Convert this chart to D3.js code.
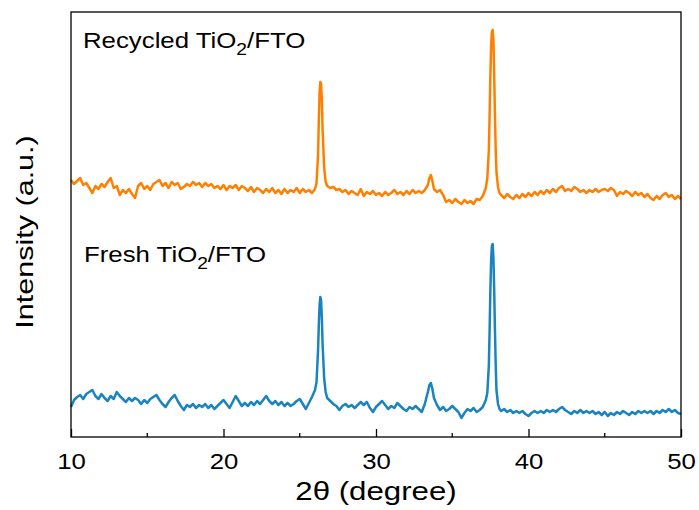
<!DOCTYPE html>
<html>
<head>
<meta charset="utf-8">
<script src="https://cdn.jsdelivr.net/npm/d3@7"></script>
<style>
  body { margin: 0; background: #fff; }
  svg { font-family: "Liberation Sans", Arial, sans-serif; }
</style>
</head>
<body>
<div id="chart"></div>
<script>
// XRD patterns, [2theta, intensity (a.u.)]
const recycled = [
  [10.0,257],[10.2,253],[10.4,256],[10.6,259],[10.8,252],[11.0,254],[11.2,249],[11.4,244],[11.6,251],[11.8,248],
  [12.0,253],[12.2,250],[12.4,255],[12.6,259],[12.8,249],[13.0,251],[13.2,242],[13.4,247],[13.6,244],[13.8,248],
  [14.0,243],[14.2,239],[14.4,251],[14.6,254],[14.8,248],[15.0,251],[15.2,247],[15.4,253],[15.6,255],[15.8,257],
  [16.0,251],[16.2,254],[16.4,249],[16.6,255],[16.8,252],[17.0,254],[17.2,248],[17.4,250],[17.6,253],[17.8,251],
  [18.0,255],[18.2,252],[18.4,254],[18.6,250],[18.8,254],[19.0,251],[19.2,253],[19.4,249],[19.6,251],[19.8,248],
  [20.0,252],[20.2,247],[20.4,251],[20.6,249],[20.8,252],[21.0,247],[21.2,251],[21.4,249],[21.6,246],[21.8,250],
  [22.0,245],[22.2,249],[22.4,247],[22.6,244],[22.8,248],[23.0,245],[23.2,249],[23.4,244],[23.6,247],[23.8,243],
  [24.0,248],[24.2,244],[24.4,247],[24.6,245],[24.8,249],[25.0,244],[25.2,248],[25.4,245],[25.6,247],[25.8,244],
  [26.0,248],[26.1,254],[26.2,282],[26.25,317],[26.3,345],[26.35,355],[26.4,353],[26.45,337],[26.5,307],[26.6,269],
  [26.7,255],[26.8,251],[27.0,249],[27.2,250],[27.4,247],[27.6,248],[27.8,245],[28.0,247],[28.2,243],[28.4,246],
  [28.6,244],[28.8,242],[29.0,248],[29.2,241],[29.4,245],[29.6,243],[29.8,246],[30.0,242],[30.2,244],[30.4,241],
  [30.6,245],[30.8,242],[31.0,244],[31.2,247],[31.4,243],[31.6,245],[31.8,242],[32.0,246],[32.2,243],[32.4,247],
  [32.6,244],[32.8,246],[33.0,244],[33.2,247],[33.4,252],[33.5,259],[33.6,262],[33.7,256],[33.8,248],[34.0,245],
  [34.2,247],[34.4,242],[34.6,235],[34.8,237],[35.0,234],[35.2,238],[35.4,235],[35.6,233],[35.8,237],[36.0,234],
  [36.2,236],[36.4,233],[36.6,238],[36.8,237],[37.0,241],[37.2,249],[37.3,259],[37.4,287],[37.45,322],[37.5,362],
  [37.55,392],[37.6,405],[37.65,407],[37.7,397],[37.75,362],[37.8,322],[37.85,287],[37.9,265],[38.0,250],[38.1,244],
  [38.2,242],[38.4,239],[38.6,243],[38.8,240],[39.0,238],[39.2,242],[39.4,239],[39.6,243],[39.8,240],[40.0,244],
  [40.2,241],[40.4,245],[40.6,242],[40.8,246],[41.0,243],[41.2,247],[41.4,244],[41.6,248],[41.8,245],[42.0,249],
  [42.2,251],[42.4,246],[42.6,248],[42.8,246],[43.0,250],[43.2,248],[43.4,245],[43.6,247],[43.8,244],[44.0,247],
  [44.2,245],[44.4,248],[44.6,245],[44.8,247],[45.0,248],[45.2,246],[45.4,249],[45.6,247],[45.8,241],[46.0,245],
  [46.2,243],[46.4,246],[46.6,244],[46.8,241],[47.0,245],[47.2,242],[47.4,244],[47.6,240],[47.8,243],[48.0,239],
  [48.2,237],[48.4,241],[48.6,238],[48.8,242],[49.0,244],[49.2,240],[49.4,242],[49.6,238],[49.8,241],[50.0,238]
];

const fresh = [
  [10.0,30],[10.2,37],[10.4,40],[10.6,42],[10.8,38],[11.0,43],[11.2,45],[11.4,47],[11.6,41],[11.8,38],
  [12.0,43],[12.2,39],[12.4,36],[12.6,41],[12.8,38],[13.0,45],[13.2,41],[13.4,38],[13.6,35],[13.8,39],
  [14.0,36],[14.2,39],[14.4,37],[14.6,33],[14.8,37],[15.0,34],[15.2,38],[15.4,40],[15.6,42],[15.8,37],
  [16.0,33],[16.2,30],[16.4,35],[16.6,39],[16.8,42],[17.0,36],[17.2,31],[17.4,27],[17.6,32],[17.8,30],
  [18.0,33],[18.2,29],[18.4,32],[18.6,30],[18.8,33],[19.0,29],[19.2,32],[19.4,28],[19.6,31],[19.8,34],
  [20.0,37],[20.2,33],[20.4,29],[20.6,35],[20.8,41],[21.0,36],[21.2,31],[21.4,34],[21.6,31],[21.8,35],
  [22.0,32],[22.2,36],[22.4,33],[22.6,37],[22.8,41],[23.0,36],[23.2,33],[23.4,36],[23.6,32],[23.8,35],
  [24.0,31],[24.2,34],[24.4,31],[24.6,33],[24.8,36],[25.0,38],[25.2,33],[25.4,28],[25.6,34],[25.8,40],
  [26.0,47],[26.1,55],[26.2,87],[26.25,112],[26.3,132],[26.35,140],[26.4,137],[26.45,119],[26.5,92],[26.6,59],
  [26.7,45],[26.8,39],[27.0,36],[27.2,33],[27.4,31],[27.6,27],[27.8,31],[28.0,33],[28.2,30],[28.4,32],
  [28.6,29],[28.8,32],[29.0,35],[29.2,32],[29.4,35],[29.6,29],[29.8,25],[30.0,30],[30.2,33],[30.4,36],
  [30.6,32],[30.8,28],[31.0,31],[31.2,29],[31.4,34],[31.6,31],[31.8,28],[32.0,26],[32.2,30],[32.4,28],
  [32.6,31],[32.8,28],[33.0,25],[33.2,33],[33.3,39],[33.4,45],[33.5,52],[33.6,54],[33.7,48],[33.8,39],
  [34.0,32],[34.2,27],[34.4,30],[34.6,26],[34.8,28],[35.0,31],[35.2,28],[35.4,25],[35.6,19],[35.8,24],
  [36.0,28],[36.2,26],[36.4,29],[36.6,25],[36.8,27],[37.0,30],[37.2,37],[37.3,44],[37.4,72],[37.45,107],
  [37.5,147],[37.55,177],[37.6,191],[37.65,193],[37.7,179],[37.75,147],[37.8,107],[37.85,72],[37.9,47],[38.0,33],
  [38.1,28],[38.2,26],[38.4,28],[38.6,25],[38.8,27],[39.0,24],[39.2,26],[39.4,24],[39.6,26],[39.8,23],
  [40.0,21],[40.2,24],[40.4,26],[40.6,24],[40.8,26],[41.0,24],[41.2,27],[41.4,25],[41.6,27],[41.8,25],
  [42.0,28],[42.2,30],[42.4,27],[42.6,25],[42.8,23],[43.0,26],[43.2,24],[43.4,27],[43.6,24],[43.8,26],
  [44.0,24],[44.2,26],[44.4,23],[44.6,25],[44.8,22],[45.0,25],[45.2,21],[45.4,24],[45.6,22],[45.8,25],
  [46.0,23],[46.2,26],[46.4,24],[46.6,22],[46.8,25],[47.0,23],[47.2,26],[47.4,24],[47.6,26],[47.8,24],
  [48.0,26],[48.2,23],[48.4,26],[48.6,24],[48.8,27],[49.0,25],[49.2,28],[49.4,25],[49.6,27],[49.8,24],[50.0,23]
];

const xTicks = [10, 20, 30, 40, 50];
const xMinor = [15, 25, 35, 45];

const width = 699;
const height = 510;
const margin = { top: 12, right: 18, bottom: 73, left: 71 };
const innerW = width - margin.left - margin.right;
const innerH = height - margin.top - margin.bottom;

// the original figure's lettering is stretched along the reading direction
const stretch = 1.25;

const svg = d3.select("#chart")
    .append("svg")
    .attr("width", width)
    .attr("height", height);

const g = svg.append("g")
    .attr("transform", `translate(${margin.left},${margin.top})`);

const x = d3.scaleLinear().domain([10, 50]).range([0, innerW]);
const y = d3.scaleLinear().domain([0, innerH]).range([innerH, 0]);

const line = d3.line()
    .x(d => x(d[0]))
    .y(d => y(d[1]));

g.append("path")
    .datum(recycled)
    .attr("fill", "none")
    .attr("stroke", "#ff8000")
    .attr("stroke-width", 2.5)
    .attr("stroke-linejoin", "round")
    .attr("d", line);

g.append("path")
    .datum(fresh)
    .attr("fill", "none")
    .attr("stroke", "#1a84c0")
    .attr("stroke-width", 2.5)
    .attr("stroke-linejoin", "round")
    .attr("d", line);

// frame
g.append("rect")
    .attr("width", innerW)
    .attr("height", innerH)
    .attr("fill", "none")
    .attr("stroke", "#000")
    .attr("stroke-width", 1.3);

// inward ticks on bottom axis
const xAxis = g.append("g")
    .attr("transform", `translate(0,${innerH})`)
    .call(d3.axisBottom(x).tickValues(xTicks).tickSize(-8).tickFormat(d3.format("d")));
xAxis.select(".domain").remove();
xAxis.selectAll("line").attr("stroke-width", 1.3);
xAxis.selectAll("text")
    .attr("y", 32)
    .attr("dy", null)
    .attr("font-size", 23)
    .attr("fill", "#000")
    .attr("font-family", "Liberation Sans, Arial, sans-serif")
    .attr("transform", "scale(1.12,1)");

g.append("g")
    .attr("transform", `translate(0,${innerH})`)
    .selectAll("line")
    .data(xMinor)
    .join("line")
    .attr("x1", d => x(d))
    .attr("x2", d => x(d))
    .attr("y1", 0)
    .attr("y2", -4)
    .attr("stroke", "#000")
    .attr("stroke-width", 1.3);

// axis titles
svg.append("text")
    .attr("transform", `translate(${margin.left + innerW / 2},500) scale(${stretch},1)`)
    .attr("text-anchor", "middle")
    .attr("font-size", 25)
    .text("2θ (degree)");

svg.append("text")
    .attr("transform", `translate(33,232) rotate(-90) scale(1.3,1)`)
    .attr("text-anchor", "middle")
    .attr("font-size", 23.5)
    .text("Intensity (a.u.)");

// sample labels
function sampleLabel(name, tx, ty) {
    const t = svg.append("text")
        .attr("transform", `translate(${tx},${ty}) scale(1.2,1)`)
        .attr("font-size", 21.5);
    t.append("tspan").text(name + " TiO");
    t.append("tspan").attr("font-size", 16).attr("dy", 7).text("2");
    t.append("tspan").attr("dy", -7).text("/FTO");
}
sampleLabel("Recycled", 83, 48);
sampleLabel("Fresh", 84, 262);
</script>
</body>
</html>
